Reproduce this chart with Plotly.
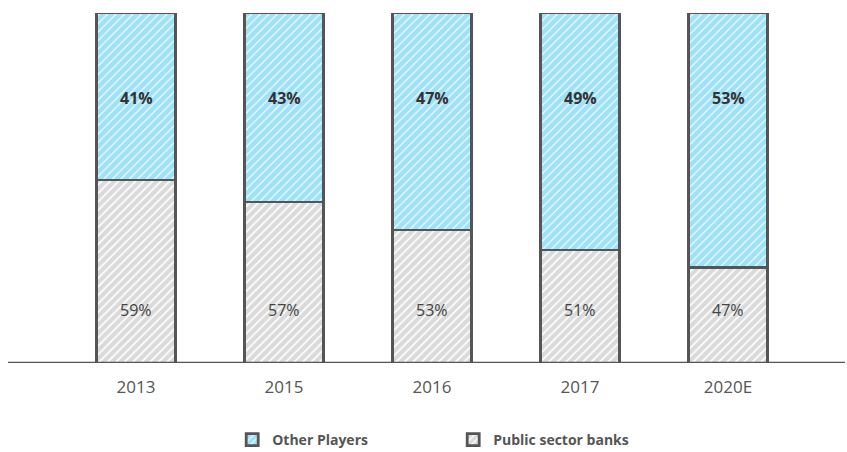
import plotly.graph_objects as go

years = ["2013", "2015", "2016", "2017", "2020E"]
other_share = [41, 43, 47, 49, 53]
public_share = [59, 57, 53, 51, 47]
# segment heights as drawn in the reference picture (not proportional to labels)
public_drawn = [52.3, 46.0, 38.0, 32.3, 27.4]
other_drawn = [100 - v for v in public_drawn]

xpos = list(range(len(years)))

blue = "#3fc4f0"
gray = "#b5b5b5"
outline = "#555555"

fig = go.Figure()
fig.add_trace(go.Bar(
    x=xpos, y=public_drawn, name="Public sector banks",
    marker=dict(color=gray, line=dict(color=outline, width=2.8),
                pattern=dict(shape="/", fgcolor=gray, bgcolor="white", size=6, solidity=0.72)),
    hoverinfo="skip",
))
fig.add_trace(go.Bar(
    x=xpos, y=other_drawn, name="Other Players",
    marker=dict(color=blue, line=dict(color=outline, width=2.8),
                pattern=dict(shape="/", fgcolor=blue, bgcolor="white", size=6, solidity=0.82)),
    hoverinfo="skip",
))

for xi, o, p in zip(xpos, other_share, public_share):
    fig.add_annotation(x=xi, y=75.7, text=f"<b>{o}%</b>", showarrow=False,
                       font=dict(family="Open Sans", size=16, color="#333333"))
    fig.add_annotation(x=xi, y=15.1, text=f"{p}%", showarrow=False,
                       font=dict(family="Open Sans", size=16, color="#444444"))

# baseline
fig.add_shape(type="line", xref="paper", yref="y", x0=-0.073, x1=1.058, y0=0, y1=0,
              line=dict(color="#555555", width=2.5), layer="above")

fig.update_layout(
    width=847, height=452,
    margin=dict(l=62, r=45, t=13, b=89, autoexpand=False),
    barmode="stack", bargap=0.47,
    plot_bgcolor="white", paper_bgcolor="white",
    font=dict(family="Open Sans", color="#555555"),
    xaxis=dict(range=[-0.5, 4.5], tickmode="array", tickvals=xpos, ticktext=years,
               automargin=False,
               showgrid=False, showline=False, zeroline=False,
               ticks="outside", ticklen=9, tickcolor="rgba(0,0,0,0)",
               tickfont=dict(size=17, color="#555555")),
    yaxis=dict(range=[0, 100], visible=False, fixedrange=True, automargin=False),
    showlegend=True,
    legend=dict(orientation="h", x=0.23, xanchor="left", y=-0.22, yanchor="middle",
                traceorder="reversed", entrywidth=176, entrywidthmode="pixels",
                font=dict(size=14, color="#555555", family="Open Sans")),
)
fig.update_layout(legend_font_weight="bold")

fig.write_html("out.html", config={"displayModeBar": False},
               post_script="document.body.style.margin='0';")
